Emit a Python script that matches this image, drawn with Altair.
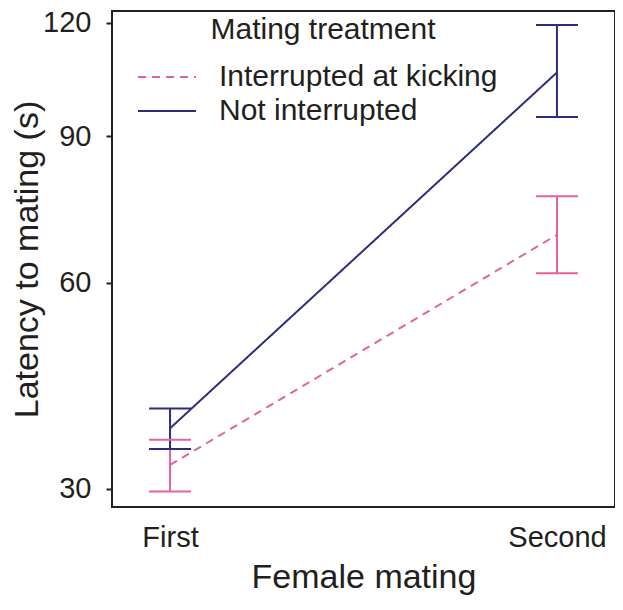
import altair as alt
import pandas as pd

mating = ["First", "Second"]
treatments = ["Interrupted at kicking", "Not interrupted"]
mean_interrupted = [32.9, 68.9]
low_interrupted = [29.7, 61.7]
high_interrupted = [36.1, 76.7]
mean_not = [37.6, 106.1]
low_not = [34.9, 94.7]
high_not = [40.3, 119.4]
y_ticks = [30, 60, 90, 120]
colors = ["#e5629e", "#2e2d7d"]

rows = []
for i, m in enumerate(mating):
    rows.append(dict(mating=m, treatment=treatments[0], mean=mean_interrupted[i],
                     low=low_interrupted[i], high=high_interrupted[i]))
    rows.append(dict(mating=m, treatment=treatments[1], mean=mean_not[i],
                     low=low_not[i], high=high_not[i]))
df = pd.DataFrame(rows)

FONT = "Liberation Sans"

x = alt.X("mating:N", sort=mating,
          scale=alt.Scale(type="point", padding=0.15),
          axis=alt.Axis(title="Female mating", labelAngle=0, ticks=False, domain=False,
                        grid=False, labelPadding=16, titlePadding=8,
                        labelFontSize=29, titleFontSize=34))
yscale = alt.Scale(type="symlog", constant=30, domain=[27.91, 123.58], nice=False, zero=False)
yaxis = alt.Axis(title="Latency to mating (s)", values=y_ticks, domain=False, grid=False,
                 tickSize=6, tickWidth=2, tickColor="#231f20", labelPadding=15,
                 labelFontSize=29, titleFontSize=34, titlePadding=-2)

legend = alt.Legend(title="Mating treatment")
color = alt.Color("treatment:N", scale=alt.Scale(domain=treatments, range=colors), legend=legend)
dash = alt.StrokeDash("treatment:N", scale=alt.Scale(domain=treatments, range=[[8, 6], [1, 0]]),
                      legend=legend)

base = alt.Chart(df)

lines = base.mark_line(strokeWidth=2).encode(
    x=x, y=alt.Y("mean:Q", scale=yscale, axis=yaxis), color=color, strokeDash=dash)

rules = base.mark_rule(strokeWidth=2).encode(
    x=x, y=alt.Y("low:Q", scale=yscale), y2="high:Q",
    color=alt.Color("treatment:N", scale=alt.Scale(domain=treatments, range=colors), legend=None))

caps_low = base.mark_tick(size=42, thickness=2, opacity=1).encode(
    x=x, y=alt.Y("low:Q", scale=yscale),
    color=alt.Color("treatment:N", scale=alt.Scale(domain=treatments, range=colors), legend=None))

caps_high = base.mark_tick(size=42, thickness=2, opacity=1).encode(
    x=x, y=alt.Y("high:Q", scale=yscale),
    color=alt.Color("treatment:N", scale=alt.Scale(domain=treatments, range=colors), legend=None))

chart = alt.layer(lines, rules, caps_low, caps_high).properties(
    width=503, height=496,
    padding={"left": 104, "top": 3, "right": 0, "bottom": 89},
    autosize=alt.AutoSizeParams(type="none"),
).configure(font=FONT).configure_view(
    stroke="#231f20", strokeWidth=2
).configure_axis(
    labelColor="#231f20", titleColor="#231f20", labelFont=FONT, titleFont=FONT,
    titleFontWeight="normal"
).configure_legend(
    orient="none", legendX=36, legendY=4,
    titleFontSize=30, labelFontSize=30, titleFontWeight="normal",
    titleFont=FONT, labelFont=FONT, titleColor="#231f20", labelColor="#231f20",
    titleAnchor="middle", symbolType="M-1.61,0H1.61", symbolSize=1296, symbolStrokeWidth=2,
    labelOffset=33, rowPadding=0, titlePadding=13, labelLimit=400, titleLimit=400
)

chart.save("out.html", embed_options={"renderer": "svg", "actions": False})
